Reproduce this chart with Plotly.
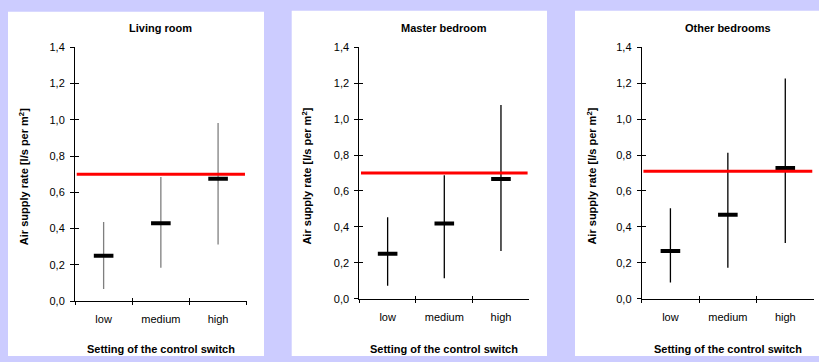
import plotly.graph_objects as go

# ---------------- data ----------------
categories = ["low", "medium", "high"]
room_titles = ["Living room", "Master bedroom", "Other bedrooms"]

living_mean = [0.25, 0.43, 0.675]
living_low = [0.067, 0.184, 0.312]
living_high = [0.437, 0.685, 0.982]

master_mean = [0.25, 0.418, 0.666]
master_low = [0.072, 0.113, 0.266]
master_high = [0.454, 0.688, 1.079]

other_mean = [0.266, 0.467, 0.727]
other_low = [0.09, 0.172, 0.31]
other_high = [0.503, 0.813, 1.226]

target_rate = [0.70, 0.70, 0.71]

y_title = "Air supply rate [l/s per m<sup>2</sup>]"
x_title = "Setting of the control switch"

# ---------------- style / layout ----------------
W, H = 819, 362
FONT = "Liberation Sans, Arial, sans-serif"
BG = "#ccccff"

# pixel geometry (left, right, bottom(0), top(1.4)) of each plot area
areas = [
    (75, 246.7, 305.3, 42.7),
    (359.3, 529.3, 302.7, 42.7),
    (641.7, 814, 302.7, 42.7),
]
panels = [(8, 264, 6), (291.7, 547, 5), (575, 819, 5)]
ytitle_x = [24, 306.7, 591.7]
whisker_colors = ["#7f7f7f", "black", "black"]

series = [
    (living_mean, living_low, living_high),
    (master_mean, master_low, master_high),
    (other_mean, other_low, other_high),
]

fig = go.Figure()
shapes = []
annotations = []

for i, ((mean, lo, hi), title) in enumerate(zip(series, room_titles)):
    n = "" if i == 0 else str(i + 1)
    m = str(i + 4)  # overlay axes for the inner half of the crossing ticks
    xa, ya = "x" + n, "y" + n
    l, r, b, t = areas[i]

    # whiskers
    wx, wy = [], []
    for c, a, z in zip(categories, lo, hi):
        wx += [c, c, None]
        wy += [a, z, None]
    fig.add_trace(go.Scatter(x=wx, y=wy, mode="lines", xaxis=xa, yaxis=ya,
                             line=dict(color=whisker_colors[i], width=1.3),
                             showlegend=False, hoverinfo="skip"))
    # means
    fig.add_trace(go.Scatter(x=categories, y=mean, mode="markers", xaxis=xa, yaxis=ya,
                             marker=dict(symbol="line-ew", size=14,
                                         line=dict(color="black", width=4)),
                             showlegend=False))
    # invisible trace so the overlay axes are drawn
    fig.add_trace(go.Scatter(x=categories, y=mean, mode="markers",
                             xaxis="x" + m, yaxis="y" + m,
                             marker=dict(opacity=0), showlegend=False,
                             hoverinfo="skip"))

    # red target line
    shapes.append(dict(type="line", xref=xa + " domain", yref=ya,
                       x0=0.01, x1=0.99, y0=target_rate[i], y1=target_rate[i],
                       line=dict(color="#ff0000", width=3), layer="above"))

    # white panel
    px0, px1, ptop = panels[i]
    shapes.append(dict(type="rect", xref="paper", yref="paper",
                       x0=px0 / W, x1=px1 / W, y0=0, y1=(H - ptop) / H,
                       fillcolor="white", line=dict(width=0), layer="below"))

    tickfont = dict(family=FONT, size=11, color="black")
    xdom = [l / W, r / W]
    ydom = [(H - b) / H, (H - t) / H]
    xcommon = dict(domain=xdom, type="category", categoryorder="array",
                   categoryarray=categories, range=[-0.5, 2.5],
                   tickson="boundaries", fixedrange=True, showgrid=False,
                   zeroline=False, tickcolor="black", ticklen=3)
    ycommon = dict(domain=ydom, range=[0, 1.4], dtick=0.2, tick0=0,
                   fixedrange=True, showgrid=False, zeroline=False,
                   tickcolor="black", ticklen=4)

    fig.layout["xaxis" + n] = dict(anchor=ya, showline=True, linecolor="black",
                                   linewidth=1, ticks="outside",
                                   tickfont=tickfont, ticklabelstandoff=8,
                                   **xcommon)
    fig.layout["yaxis" + n] = dict(anchor=xa, showline=True, linecolor="black",
                                   linewidth=1, ticks="outside",
                                   tickformat=".1f", tickfont=tickfont,
                                   ticklabelstandoff=3, **ycommon)
    fig.layout["xaxis" + m] = dict(anchor=ya, overlaying=xa, showline=False,
                                   ticks="inside", showticklabels=False,
                                   **xcommon)
    fig.layout["yaxis" + m] = dict(anchor=xa, overlaying=ya, showline=False,
                                   ticks="inside", showticklabels=False,
                                   **ycommon)

    cx = (l + r) / 2 / W
    bold = dict(family=FONT, size=11, color="black")
    annotations.append(dict(text="<b>" + title + "</b>", xref="paper", yref="paper",
                            x=cx, y=(H - 23) / H, showarrow=False,
                            xanchor="center", yanchor="middle", font=bold))
    annotations.append(dict(text="<b>" + x_title + "</b>", xref="paper", yref="paper",
                            x=cx, y=(H - 355) / H, showarrow=False,
                            xanchor="center", yanchor="middle", font=bold))
    annotations.append(dict(text="<b>" + y_title + "</b>", xref="paper", yref="paper",
                            x=ytitle_x[i] / W, y=(H - (b + t) / 2 - 3) / H,
                            showarrow=False, textangle=-90,
                            xanchor="center", yanchor="middle", font=bold))

fig.update_layout(width=W, height=H, margin=dict(l=0, r=0, t=0, b=0),
                  paper_bgcolor=BG, plot_bgcolor="rgba(0,0,0,0)",
                  separators=",.", shapes=shapes, annotations=annotations,
                  font=dict(family=FONT, size=11, color="black"),
                  showlegend=False)

fig.write_html("out.html")
